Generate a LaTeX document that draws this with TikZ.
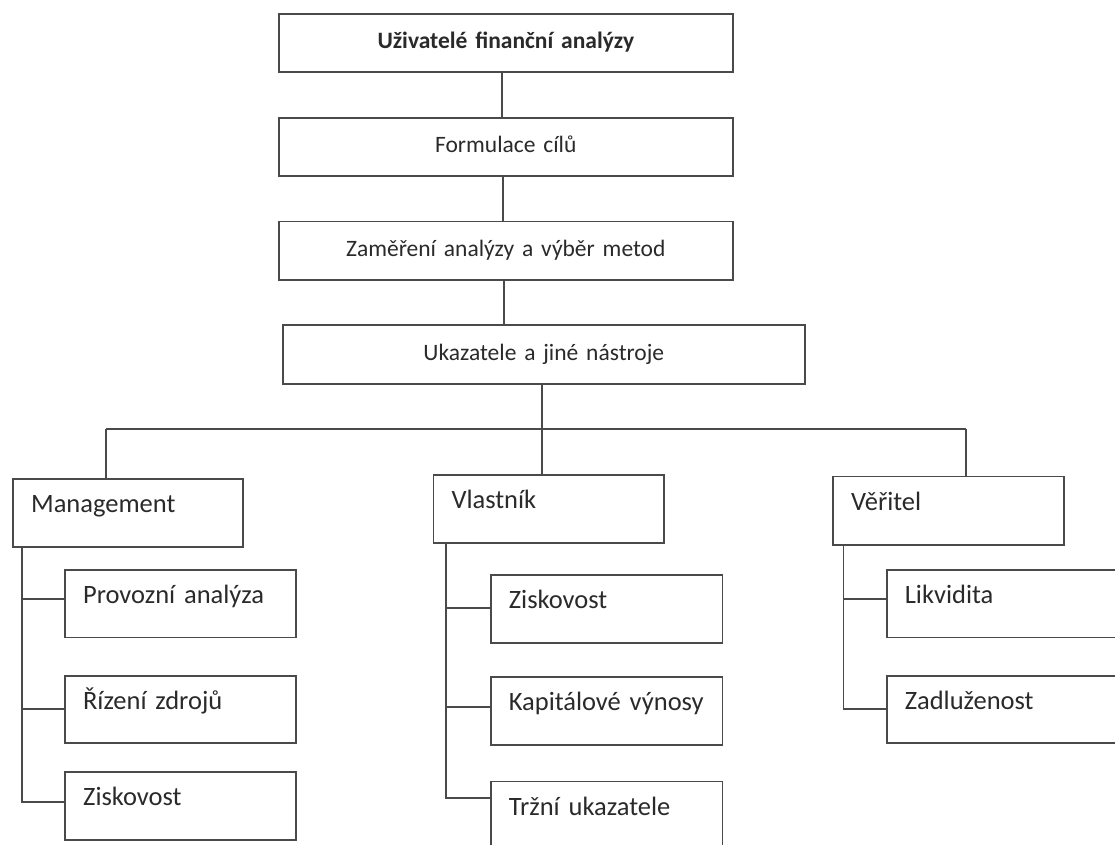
\documentclass[tikz,border=0pt]{standalone}
\usepackage{fontspec}
\setmainfont{Carlito}[WordSpace=0.7]
\definecolor{linec}{HTML}{4A4A4A}
\definecolor{textc}{HTML}{2A2A2A}
\begin{document}
\begin{tikzpicture}[x=1pt,y=-1pt,
  lnk/.style={draw=linec, line width=1.6pt},
  topbox/.style={draw=linec, line width=1.6pt, anchor=north west, inner xsep=0pt, inner ysep=0pt,
    align=center, font=\fontsize{23.5}{28}\selectfont, text=textc, text height=35pt},
  subbox/.style={draw=linec, line width=1.6pt, anchor=north west, inner xsep=18pt, inner ysep=0pt,
    align=left, font=\fontsize{26.5}{30}\selectfont, text=textc, text height=33.5pt}
]
\useasboundingbox (0,0) rectangle (1115,844);
\clip (0,0) rectangle (1115,844);
% top chain
\node[topbox, text width=454pt, text depth=23pt] (b1) at (278,13) {\textbf{Uživatelé finanční analýzy}};
\node[topbox, text width=454pt, text depth=23pt] (b2) at (278,117) {Formulace cílů};
\node[topbox, text width=454pt, text depth=23.5pt] (b3) at (278,220.5) {Zaměření analýzy a výběr metod};
\node[topbox, text width=522pt, text depth=24pt] (b4) at (282,324.3) {Ukazatele a jiné nástroje};
% group heads
\node[subbox, text width=194pt, text depth=34.5pt] (man) at (12.3,478) {Management};
\node[subbox, text width=194.6pt, text depth=34.8pt] (vl) at (432.7,474) {Vlastník};
\node[subbox, text width=195pt, text depth=34.8pt] (ve) at (832.3,475.7) {Věřitel};
% management children
\node[subbox, text width=194.7pt, text depth=33.9pt] (m1) at (64.3,569.3) {Provozní analýza};
\node[subbox, text width=194.7pt, text depth=33.8pt] (m2) at (64.3,675) {Řízení zdrojů};
\node[subbox, text width=194.7pt, text depth=34.8pt] (m3) at (64.3,771) {Ziskovost};
% vlastnik children
\node[subbox, text width=195.7pt, text depth=34.5pt] (v1) at (490,574.3) {Ziskovost};
\node[subbox, text width=195.7pt, text depth=34.5pt] (v2) at (490,676) {Kapitálové výnosy};
\node[subbox, text width=195.7pt, text depth=34.5pt] (v3) at (490,780.7) {Tržní ukazatele};
% veritel children
\node[subbox, text width=195pt, text depth=33.9pt] (c1) at (886,569.3) {Likvidita};
\node[subbox, text width=195pt, text depth=33.8pt] (c2) at (886,675) {Zadluženost};
% bar
\coordinate (barL) at (106,429);
\coordinate (barR) at (966,429);
% connectors
\draw[lnk] ([xshift=-4pt]b1.south) -- ([xshift=-4pt]b2.north);
\draw[lnk] ([xshift=-3pt]b2.south) -- ([xshift=-3pt]b3.north);
\draw[lnk] ([xshift=-2pt]b3.south) -- ([xshift=-2pt]b3.south |- b4.north);
\draw[lnk] ([xshift=-2pt]b4.south) -- ([xshift=-2pt]b4.south |- vl.north);
\draw[lnk] (barL) -- (barR);
\draw[lnk] (barL) -- (barL |- man.north);
\draw[lnk] (barR) -- (barR |- ve.north);
% management spine
\draw[lnk] ([xshift=9.4pt]man.south west) |- ([yshift=-29.7pt]m1.north west);
\draw[lnk] ([xshift=9.4pt]man.south west) |- ([yshift=-34pt]m2.north west);
\draw[lnk] ([xshift=9.4pt]man.south west) |- ([yshift=-31pt]m3.north west);
% vlastnik spine
\draw[lnk] ([xshift=13pt]vl.south west) |- ([yshift=-33.7pt]v1.north west);
\draw[lnk] ([xshift=13pt]vl.south west) |- ([yshift=-30.7pt]v2.north west);
\draw[lnk] ([xshift=13pt]vl.south west) |- ([yshift=-17pt]v3.north west);
% veritel spine
\draw[lnk] ([xshift=11pt]ve.south west) |- ([yshift=-29.7pt]c1.north west);
\draw[lnk] ([xshift=11pt]ve.south west) |- ([yshift=-34pt]c2.north west);
\end{tikzpicture}
\end{document}
